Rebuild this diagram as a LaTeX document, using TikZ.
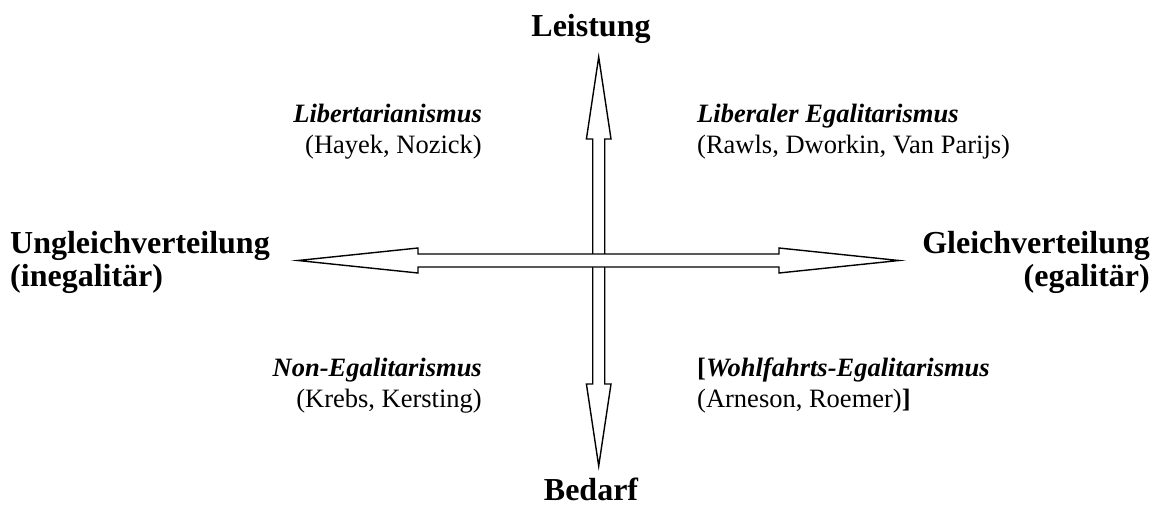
\documentclass[tikz,border=0pt]{standalone}
\usepackage{fontspec}
\setmainfont{Liberation Serif}
\usetikzlibrary{positioning}

\begin{document}
\begin{tikzpicture}[x=1pt, y=-1pt,
    axis/.style={draw, line width=1.4pt, fill=white, line join=miter},
    pole/.style={font=\fontsize{32}{33}\selectfont\bfseries, inner sep=0pt},
    school/.style={font=\fontsize{26.5}{31}\selectfont, inner sep=0pt}
  ]
    \useasboundingbox (0,0) rectangle (1155,509);
    \coordinate (top) at (598.7,57);
    \coordinate (left) at (298,260.5);

    % vertical axis first, horizontal one on top
    \draw[axis] (top) -- ++(12.3,82) -- ++(-6.3,0) -- ++(0,245) -- ++(6.3,0)
      -- ++(-12.3,82) -- ++(-12.3,-82) -- ++(6.3,0) -- ++(0,-245) -- ++(-6.3,0) -- cycle;
    \draw[axis] (left) -- ++(120,-12.5) -- ++(0,6) -- ++(361,0) -- ++(0,-6)
      -- ++(120,12.5) -- ++(-120,12.5) -- ++(0,-6) -- ++(-361,0) -- ++(0,6) -- cycle;

    \node[pole, anchor=base] (leistung) at (591,36) {Leistung};
    \node[pole, anchor=base] (bedarf) at (591,500) {Bedarf};
    \node[pole, anchor=base west, align=left] (ungleich) at (10,286)
      {Ungleichverteilung\\(inegalitär)};
    \node[pole, anchor=base east, align=right] (gleich) at (1150,286)
      {Gleichverteilung\\(egalitär)};

    \node[school, anchor=base east, align=right] (libert) at (482,153)
      {\textbf{\textit{Libertarianismus}}\\(Hayek, Nozick)};
    \node[school, anchor=base west, align=left] (liberal) at (697,153)
      {\textbf{\textit{Liberaler Egalitarismus}}\\(Rawls, Dworkin, Van Parijs)};
    \node[school, anchor=base east, align=right] (nonegal) at (482,407)
      {\textbf{\textit{Non-Egalitarismus}}\\(Krebs, Kersting)};
    \node[school, anchor=base west, align=left] (wohlfahrt) at (697,407)
      {\textbf{[\textit{Wohlfahrts-Egalitarismus}}\\(Arneson, Roemer)\textbf{]}};
  \end{tikzpicture}
\end{document}
